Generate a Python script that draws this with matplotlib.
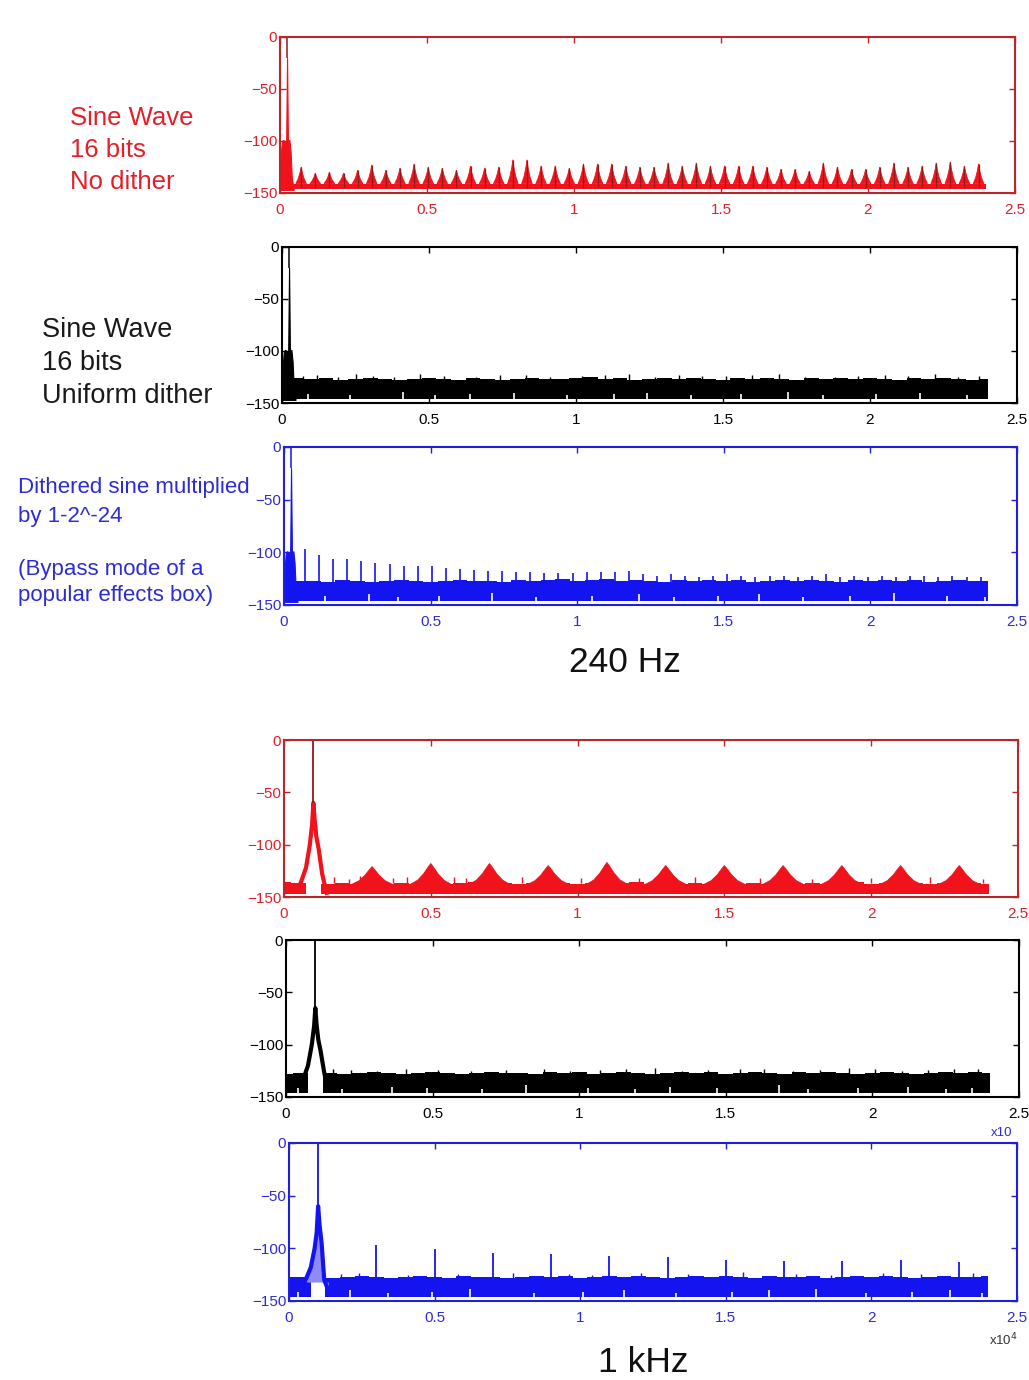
import numpy as np
import matplotlib
matplotlib.use("Agg")
import matplotlib.pyplot as plt

# ---------------------------------------------------------------- axes ticks
FREQ_TICKS = [0, 0.5, 1, 1.5, 2, 2.5]          # frequency, x10^4 Hz
FREQ_LABELS = ["0", "0.5", "1", "1.5", "2", "2.5"]
DB_TICKS = [0, -50, -100, -150]
DB_LABELS = ["0", "\u221250", "\u2212100", "\u2212150"]

# analysis grid for the broadband noise floor (x10^4 Hz)
floor_x = np.linspace(0.0, 2.4, 49)
FLOOR_END = 2.40
nan = np.nan

# ---------------------------------------------------------------- 240 Hz tone
tone240_x = [0.000, 0.003, 0.006, 0.010, 0.016, 0.021, 0.024, 0.027, 0.032, 0.036, 0.040, 0.046]
tone240_db = [-125, -112, -101, -99, -100, -100, -20, -100, -99, -110, -135, -146]
tone240_f = 0.024

# odd harmonics of 240 Hz (x10^4 Hz)
harm240_x = [0.072, 0.120, 0.168, 0.216, 0.264, 0.312, 0.360, 0.408, 0.456, 0.504,
             0.552, 0.600, 0.648, 0.696, 0.744, 0.792, 0.840, 0.888, 0.936, 0.984,
             1.032, 1.080, 1.128, 1.176, 1.224, 1.272, 1.320, 1.368, 1.416, 1.464,
             1.512, 1.560, 1.608, 1.656, 1.704, 1.752, 1.800, 1.848, 1.896, 1.944,
             1.992, 2.040, 2.088, 2.136, 2.184, 2.232, 2.280, 2.328, 2.376]

# 16 bits, no dither: distortion harmonics
nodith240_harm_db = [-125, -131, -130, -131, -128, -123, -128, -126, -122, -125,
                     -126, -128, -124, -126, -125, -118, -118, -124, -124, -126,
                     -122, -122, -122, -124, -125, -125, -121, -124, -121, -124,
                     -124, -124, -124, -125, -127, -127, -129, -121, -125, -127,
                     -127, -125, -121, -125, -124, -121, -120, -124, -122]
nodith240_floor = (-146, -141)

# 16 bits, uniform dither: flat noise floor
dith240_top = [nan, -126, -127, -126, -128, -127, -126, -127, -128, -127,
               -126, -127, -128, -126, -127, -128, -127, -126, -127, -127,
               -126, -125, -127, -126, -128, -127, -126, -127, -126, -127,
               -128, -126, -127, -126, -127, -128, -126, -127, -126, -127,
               -126, -127, -128, -126, -127, -126, -127, -128, -127]
dith240_bottom = -146
dith240_burst_x = [0.07, 0.12, 0.19, 0.25, 0.31, 0.38, 0.47, 0.55, 0.66, 0.74, 0.83, 0.91,
                   1.02, 1.10, 1.18, 1.27, 1.35, 1.43, 1.51, 1.60, 1.69, 1.78, 1.88, 1.96,
                   2.05, 2.13, 2.22, 2.30, 2.37]
dith240_burst_db = [-124, -123, -125, -122, -124, -125, -122, -124, -125, -123, -123, -125,
                    -124, -123, -122, -125, -123, -124, -124, -123, -122, -125, -125, -124,
                    -123, -124, -122, -125, -124]
dith240_dip_x = [0.09, 0.23, 0.41, 0.52, 0.64, 0.79, 0.97, 1.13, 1.24, 1.39, 1.56, 1.72, 1.84, 2.02, 2.17, 2.33]
dith240_dip_db = [-141, -142, -139, -142, -141, -140, -142, -141, -140, -142, -141, -139, -142, -141, -140, -142]

# dithered sine multiplied by 1-2^-24
bypass240_top = [nan, -127, -127, -128, -126, -127, -128, -127, -126, -127,
                 -128, -127, -126, -127, -127, -128, -126, -127, -126, -125,
                 -127, -126, -125, -127, -126, -127, -128, -126, -127, -126,
                 -127, -126, -128, -127, -126, -127, -126, -127, -128, -126,
                 -127, -126, -127, -126, -128, -127, -126, -127, -127]
bypass240_bottom = -146
bypass240_harm_db = [-97, -103, -106, -106, -108, -110, -111, -113, -113, -113,
                     -115, -116, -117, -118, -118, -119, -119, -120, -120, -120,
                     -119, -119, -119, -118, -121, -122, -121, -122, -123, -122,
                     -121, -122, -123, -122, -122, -123, -122, -121, -123, -122,
                     -123, -122, -123, -122, -122, -123, -122, -123, -123]
bypass240_dip_x = [0.14, 0.29, 0.39, 0.53, 0.71, 0.86, 1.05, 1.21, 1.33, 1.48, 1.62, 1.77, 1.93, 2.08, 2.26, 2.39]
bypass240_dip_db = [-141, -140, -142, -141, -139, -142, -141, -140, -142, -141, -140, -142, -141, -139, -141, -142]

# ---------------------------------------------------------------- 1 kHz tone
tone1k_f = 0.100
nodith1k_tone_x = [0.055, 0.075, 0.088, 0.096, 0.100, 0.104, 0.110, 0.118, 0.130, 0.145]
nodith1k_tone_db = [-138, -122, -100, -80, -60, -75, -92, -104, -128, -146]
nodith1k_top = [-136, -137, nan, -138, -137, -138, -137, -138, -137, -138,
                -137, -138, -137, -136, -138, -137, -138, -137, -138, -137,
                -138, -137, -138, -137, -136, -138, -137, -138, -137, -138,
                -137, -138, -137, -138, -137, -138, -137, -138, -137, -136,
                -138, -137, -138, -137, -138, -137, -138, -137, -138]
nodith1k_bottom = -147
nodith1k_hump_x = [0.3, 0.5, 0.7, 0.9, 1.1, 1.3, 1.5, 1.7, 1.9, 2.1, 2.3]
nodith1k_hump_db = [-121, -118, -118, -120, -117, -120, -120, -120, -120, -120, -120]
nodith1k_burst_x = [0.17, 0.22, 0.26, 0.37, 0.42, 0.58, 0.62, 0.81, 0.86, 1.01, 1.21, 1.40, 1.62, 1.80, 2.00, 2.20, 2.38]
nodith1k_burst_db = [-131, -133, -130, -132, -131, -131, -132, -131, -133, -132, -132, -131, -132, -133, -132, -131, -133]

dith1k_tone_x = [0.060, 0.075, 0.088, 0.096, 0.100, 0.104, 0.110, 0.118, 0.130, 0.140]
dith1k_tone_db = [-132, -120, -100, -82, -65, -80, -95, -106, -126, -140]
dith1k_top = [-128, -127, nan, -127, -128, -127, -126, -127, -128, -127,
              -126, -127, -128, -127, -126, -127, -127, -128, -126, -127,
              -126, -128, -127, -126, -127, -128, -127, -126, -127, -126,
              -128, -127, -126, -127, -128, -126, -127, -126, -127, -128,
              -127, -126, -127, -128, -127, -126, -127, -126, -127]
dith1k_bottom = -146
dith1k_burst_x = [0.16, 0.22, 0.31, 0.41, 0.52, 0.63, 0.75, 0.88, 0.97, 1.07, 1.16, 1.26,
                  1.35, 1.44, 1.55, 1.63, 1.73, 1.82, 1.92, 2.01, 2.10, 2.19, 2.28, 2.36]
dith1k_burst_db = [-123, -124, -125, -123, -124, -125, -124, -123, -125, -124, -123, -122,
                   -125, -124, -123, -123, -125, -124, -122, -123, -125, -124, -123, -123]
dith1k_dip_x = [0.04, 0.19, 0.36, 0.48, 0.67, 0.82, 1.03, 1.19, 1.31, 1.47, 1.68, 1.78, 1.95, 2.12, 2.25, 2.34]
dith1k_dip_db = [-141, -142, -140, -141, -142, -139, -141, -142, -140, -141, -139, -142, -141, -140, -142, -141]

bypass1k_tone_x = [0.060, 0.075, 0.088, 0.095, 0.100, 0.105, 0.112, 0.121, 0.135]
bypass1k_tone_db = [-128, -118, -100, -85, -60, -78, -95, -130, -140]
bypass1k_top = [-127, -127, nan, -128, -127, -126, -127, -128, -127, -126,
                -127, -128, -126, -127, -127, -128, -127, -126, -127, -126,
                -128, -127, -126, -127, -126, -127, -128, -127, -126, -127,
                -126, -127, -128, -126, -127, -127, -126, -128, -127, -126,
                -127, -126, -127, -128, -127, -126, -127, -127, -126]
bypass1k_bottom = -146
bypass1k_harm_x = [0.3, 0.5, 0.7, 0.9, 1.1, 1.3, 1.5, 1.7, 1.9, 2.1, 2.3]
bypass1k_harm_db = [-97, -101, -104, -105, -107, -108, -111, -112, -112, -111, -113]
bypass1k_burst_x = [0.18, 0.24, 0.41, 0.58, 0.77, 0.96, 1.04, 1.21, 1.37, 1.56, 1.74, 1.86, 2.04, 2.17, 2.35]
bypass1k_burst_db = [-124, -123, -125, -124, -123, -124, -125, -123, -124, -122, -124, -125, -123, -124, -123]
bypass1k_dip_x = [0.03, 0.21, 0.34, 0.49, 0.62, 0.84, 1.01, 1.15, 1.33, 1.52, 1.65, 1.81, 1.98, 2.14, 2.27, 2.38]
bypass1k_dip_db = [-141, -140, -142, -141, -139, -142, -141, -140, -142, -141, -140, -139, -142, -141, -140, -142]

# ---------------------------------------------------------------- colours
RED = "#f2121c"
RED_DARK = "#8e1a1a"
RED_FRAME = "#b8282a"
RED_TEXT = "#e3202a"
BLACK = "#000000"
BLUE = "#1414f0"
BLUE_FRAME = "#2020d8"
BLUE_TEXT = "#2c2cd4"

W, H = 1029, 1380
plt.rcParams["font.family"] = ["Liberation Sans", "DejaVu Sans"]
fig = plt.figure(figsize=(W / 100, H / 100), dpi=100)
fig.patch.set_facecolor("white")


def make_axes(left, right, top, bottom, frame, label_color):
    ax = fig.add_axes([left / W, 1 - bottom / H, (right - left) / W, (bottom - top) / H])
    ax.set_xlim(0, 2.5)
    ax.set_ylim(-150, 0)
    ax.set_xticks(FREQ_TICKS)
    ax.set_xticklabels(FREQ_LABELS)
    ax.set_yticks(DB_TICKS)
    ax.set_yticklabels(DB_LABELS)
    ax.tick_params(direction="in", length=4, width=1, colors=frame,
                   labelcolor=label_color, labelsize=11, top=True, right=True)
    ax.tick_params(axis="x", pad=7.5)
    ax.tick_params(axis="y", pad=2)
    for s in ax.spines.values():
        s.set_color(frame)
        s.set_linewidth(1.5)
    return ax


def noise_band(ax, top, bottom, color):
    top = np.asarray(top, dtype=float)
    ok = ~np.isnan(top)
    left = floor_x[ok] - 0.025
    right = np.minimum(floor_x[ok] + 0.025, FLOOR_END)
    ax.bar(left, top[ok] - bottom, bottom=bottom, width=right - left,
           color=color, linewidth=0, align="edge")


def bursts(ax, xs, dbs, base, color, lw=1.0):
    ax.vlines(xs, base, dbs, color=color, linewidth=lw)


def dips(ax, xs, dbs, bottom):
    ax.vlines(xs, bottom - 0.5, dbs, color="white", linewidth=1.2)


def tone_fill(ax, xs, dbs, f, color, peak_color):
    ax.fill_between(xs, -147, dbs, color=color, linewidth=0.8, edgecolor=color)
    ax.vlines([f], max(dbs), 0, color=peak_color, linewidth=1.1)


def tone_line(ax, xs, dbs, f, color, peak_color):
    ax.plot(xs, dbs, color=color, linewidth=3.0, solid_joinstyle="round")
    ax.vlines([f], max(dbs), 0, color=peak_color, linewidth=1.3)


# ---- 240 Hz, no dither
ax1 = make_axes(280, 1015, 37, 193, RED_FRAME, RED_TEXT)
ax1.fill_between([0.044, FLOOR_END], nodith240_floor[0], nodith240_floor[1], color=RED, linewidth=0)
spike_dx = [-0.018, -0.010, -0.004, 0.0, 0.004, 0.010, 0.018]
spike_frac = [0.0, 0.3, 0.65, 1.0, 0.65, 0.3, 0.0]
for c, h in zip(harm240_x, nodith240_harm_db):
    base = nodith240_floor[1]
    xs = [c + d for d in spike_dx]
    ys = [base + f * (h - base) for f in spike_frac]
    ax1.fill(xs, ys, color=RED, linewidth=0.6, edgecolor=RED)
ax1.vlines(harm240_x, nodith240_floor[1] - 3, nodith240_harm_db, color=RED_DARK, linewidth=0.9)
tone_fill(ax1, tone240_x, tone240_db, tone240_f, RED, RED_DARK)

# ---- 240 Hz, uniform dither
ax2 = make_axes(282, 1017, 247, 403, BLACK, BLACK)
noise_band(ax2, dith240_top, dith240_bottom, BLACK)
bursts(ax2, dith240_burst_x, dith240_burst_db, -128, BLACK)
dips(ax2, dith240_dip_x, dith240_dip_db, dith240_bottom)
tone_fill(ax2, tone240_x, tone240_db, tone240_f, BLACK, BLACK)

# ---- 240 Hz, dithered and rescaled
ax3 = make_axes(284, 1017, 447, 605, BLUE_FRAME, BLUE_TEXT)
noise_band(ax3, bypass240_top, bypass240_bottom, BLUE)
dips(ax3, bypass240_dip_x, bypass240_dip_db, bypass240_bottom)
ax3.vlines(harm240_x, -128, bypass240_harm_db, color=BLUE, linewidth=1.2)
tone_fill(ax3, tone240_x, tone240_db, tone240_f, BLUE, BLUE)

# ---- 1 kHz, no dither
ax4 = make_axes(284, 1018, 740, 897, RED_FRAME, RED_TEXT)
noise_band(ax4, nodith1k_top, nodith1k_bottom, RED)
hump_dx = [-0.07, -0.045, -0.025, -0.008, 0.0, 0.008, 0.025, 0.045, 0.07]
hump_frac = [0.0, 0.2, 0.5, 0.85, 1.0, 0.85, 0.5, 0.2, 0.0]
for c, h in zip(nodith1k_hump_x, nodith1k_hump_db):
    xs = [c + d for d in hump_dx]
    ys = [-138 + f * (h + 138) for f in hump_frac]
    ax4.fill(xs + [xs[-1], xs[0]], ys + [-140, -140], color=RED, linewidth=0.6, edgecolor=RED)
bursts(ax4, nodith1k_burst_x, nodith1k_burst_db, -137, RED)
tone_line(ax4, nodith1k_tone_x, nodith1k_tone_db, tone1k_f, RED, RED_DARK)

# ---- 1 kHz, uniform dither
ax5 = make_axes(286, 1019, 940, 1097, BLACK, BLACK)
noise_band(ax5, dith1k_top, dith1k_bottom, BLACK)
bursts(ax5, dith1k_burst_x, dith1k_burst_db, -128, BLACK)
dips(ax5, dith1k_dip_x, dith1k_dip_db, dith1k_bottom)
tone_line(ax5, dith1k_tone_x, dith1k_tone_db, tone1k_f, BLACK, BLACK)

# ---- 1 kHz, dithered and rescaled
ax6 = make_axes(289, 1017, 1143, 1301, BLUE_FRAME, BLUE_TEXT)
noise_band(ax6, bypass1k_top, bypass1k_bottom, BLUE)
bursts(ax6, bypass1k_burst_x, bypass1k_burst_db, -128, BLUE)
dips(ax6, bypass1k_dip_x, bypass1k_dip_db, bypass1k_bottom)
ax6.vlines(bypass1k_harm_x, -128, bypass1k_harm_db, color=BLUE, linewidth=1.3)
ax6.fill_between(bypass1k_tone_x, -132, bypass1k_tone_db, color="#8c8cf4", linewidth=0)
tone_line(ax6, bypass1k_tone_x, bypass1k_tone_db, tone1k_f, BLUE, BLUE)

# ---------------------------------------------------------------- annotations
def ftext(x, y, s, **kw):
    fig.text(x / W, 1 - y / H, s, **kw)


for i, line in enumerate(["Sine Wave", "16 bits", "No dither"]):
    ftext(70, 118 + 32 * i, line, color=RED_TEXT, fontsize=18.5, va="center", ha="left")
for i, line in enumerate(["Sine Wave", "16 bits", "Uniform dither"]):
    ftext(42, 330 + 33 * i, line, color="#1a1a1a", fontsize=19.5, va="center", ha="left")
for y, line in zip([488, 516, 569, 596],
                   ["Dithered sine multiplied", "by 1-2^-24",
                    "(Bypass mode of a", "popular effects box)"]):
    ftext(18, y, line, color=BLUE_TEXT, fontsize=16, va="center", ha="left")

ftext(625, 663, "240 Hz", color="#111111", fontsize=25.5, va="center", ha="center")
ftext(643, 1363, "1 kHz", color="#111111", fontsize=25.5, va="center", ha="center")
ftext(1002, 1133, "x10", color=BLUE_TEXT, fontsize=9.5, va="center", ha="center")
ftext(1003, 1340, "x10$^4$", color="#333333", fontsize=9.5, va="center", ha="center")

fig.savefig("out.png", dpi=100, facecolor="white")
